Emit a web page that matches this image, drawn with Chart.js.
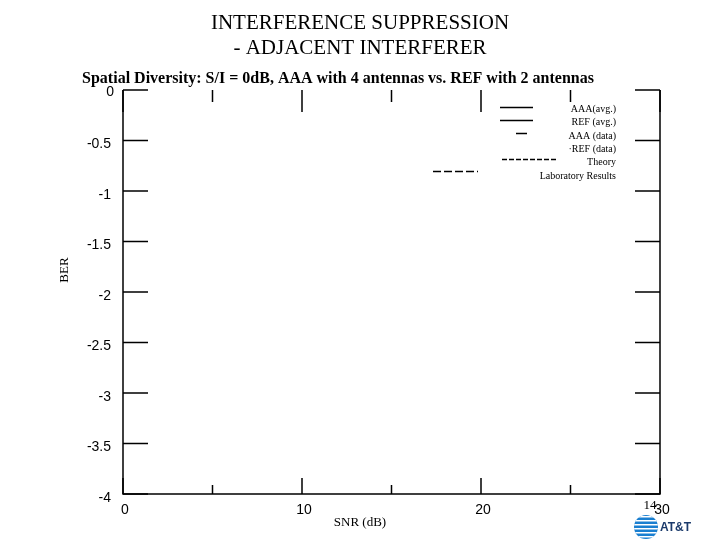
<!DOCTYPE html>
<html>
<head>
<meta charset="utf-8">
<script src="https://cdn.jsdelivr.net/npm/chart.js@4"></script>
<style>
  body { margin: 0; background: #fff; }
  #wrap { width: 720px; height: 540px; }
</style>
</head>
<body>
<div id="wrap"><canvas id="c" width="720" height="540"></canvas></div>
<script>
// axis ranges and ticks
const xTicks = [0, 10, 20, 30];
const xMinor = [5, 15, 25];
const yTicks = [0, -0.5, -1, -1.5, -2, -2.5, -3, -3.5, -4];
const yTickLabels = ["0", "-0.5", "-1", "-1.5", "-2", "-2.5", "-3", "-3.5", "-4"];
// legend entries (no data points are plotted in the reference)
const seriesNames = ["AAA(avg.)", "REF (avg.)", "AAA (data)", "·REF (data)", "Theory", "Laboratory Results"];
const seriesData = [[], [], [], [], [], []];

const serif = "'Liberation Serif', 'DejaVu Serif', serif";
const sans = "'Liberation Sans', Arial, sans-serif";

const drawPlugin = {
  id: "draw",
  afterDraw(chart) {
    const ctx = chart.ctx;
    const a = chart.chartArea;
    const xs = chart.scales.x, ys = chart.scales.y;
    ctx.save();
    ctx.strokeStyle = "#000";
    ctx.fillStyle = "#000";
    ctx.lineWidth = 1.5;
    ctx.beginPath();
    ctx.moveTo(a.left, a.top); ctx.lineTo(a.left, a.bottom); ctx.lineTo(a.right, a.bottom); ctx.lineTo(a.right, a.top);
    ctx.stroke();
    // y ticks inward on both sides
    yTicks.forEach((v, i) => {
      const y = ys.getPixelForValue(v);
      ctx.beginPath();
      ctx.moveTo(a.left, y); ctx.lineTo(a.left + 25, y);
      ctx.moveTo(a.right, y); ctx.lineTo(a.right - 25, y);
      ctx.stroke();
      ctx.font = "14px " + sans;
      ctx.textAlign = "right"; ctx.textBaseline = "middle";
      if (i === 0) ctx.fillText(yTickLabels[i], a.left - 9, y + 2);
      else ctx.fillText(yTickLabels[i], a.left - 12, y + 4);
    });
    // x ticks top and bottom
    xTicks.forEach(v => {
      const x = xs.getPixelForValue(v);
      ctx.beginPath();
      ctx.moveTo(x, a.bottom); ctx.lineTo(x, a.bottom - 16);
      ctx.moveTo(x, a.top); ctx.lineTo(x, a.top + 22);
      ctx.stroke();
      ctx.font = "14px " + sans;
      ctx.textAlign = "center"; ctx.textBaseline = "top";
      ctx.fillText(String(v), x + 2, a.bottom + 9);
    });
    xMinor.forEach(v => {
      const x = xs.getPixelForValue(v);
      ctx.beginPath();
      ctx.moveTo(x, a.bottom); ctx.lineTo(x, a.bottom - 9);
      ctx.moveTo(x, a.top); ctx.lineTo(x, a.top + 12);
      ctx.stroke();
    });
    // titles
    ctx.textAlign = "center"; ctx.textBaseline = "alphabetic";
    ctx.font = "21px " + serif;
    ctx.fillText("INTERFERENCE SUPPRESSION", 360, 29);
    ctx.fillText("- ADJACENT INTERFERER", 360, 54);
    ctx.font = "bold 16px " + serif;
    ctx.fillText("Spatial Diversity: S/I = 0dB, AAA with 4 antennas vs. REF with 2 antennas", 338, 83);
    ctx.font = "13px " + serif;
    ctx.fillText("SNR (dB)", 360, 526);
    ctx.save();
    ctx.translate(68, 270); ctx.rotate(-Math.PI / 2);
    ctx.fillText("BER", 0, 0);
    ctx.restore();
    ctx.fillText("14", 650, 509);
    // legend
    ctx.font = "10px " + serif;
    ctx.textAlign = "right"; ctx.textBaseline = "middle";
    const rows = [109, 122, 136, 149, 162, 176];
    seriesNames.forEach((n, i) => ctx.fillText(n, 616, rows[i]));
    ctx.lineWidth = 1.3;
    ctx.beginPath();
    ctx.moveTo(500, 107.5); ctx.lineTo(533, 107.5);
    ctx.moveTo(500, 120.5); ctx.lineTo(533, 120.5);
    ctx.moveTo(516, 133.5); ctx.lineTo(527, 133.5);
    ctx.stroke();
    ctx.setLineDash([5, 2]);
    ctx.beginPath();
    ctx.moveTo(502, 159.5); ctx.lineTo(558, 159.5);
    ctx.stroke();
    ctx.setLineDash([8, 3]);
    ctx.beginPath();
    ctx.moveTo(433, 171.5); ctx.lineTo(478, 171.5);
    ctx.stroke();
    ctx.setLineDash([]);
    // AT&T logo
    ctx.save();
    ctx.beginPath(); ctx.arc(646, 527, 12, 0, Math.PI * 2); ctx.clip();
    ctx.fillStyle = "#1a7fd0"; ctx.fillRect(630, 512, 32, 30);
    ctx.fillStyle = "#fff";
    for (let k = 0; k < 6; k++) ctx.fillRect(630, 516 + k * 4, 32, 1.5);
    ctx.restore();
    ctx.fillStyle = "#1b3a6b";
    ctx.font = "bold 12px " + sans; ctx.textAlign = "left";
    ctx.fillText("AT&T", 660, 528);
    ctx.restore();
  }
};

new Chart(document.getElementById("c"), {
  type: "line",
  data: {
    datasets: seriesNames.map((n, i) => ({ label: n, data: seriesData[i], borderColor: "#000" }))
  },
  options: {
    responsive: false,
    animation: false,
    layout: { padding: { left: 123, top: 90, right: 60, bottom: 46 } },
    plugins: { legend: { display: false }, tooltip: { enabled: false } },
    scales: {
      x: { type: "linear", min: 0, max: 30, display: false },
      y: { type: "linear", min: -4, max: 0, display: false }
    }
  },
  plugins: [drawPlugin]
});
</script>
</body>
</html>
